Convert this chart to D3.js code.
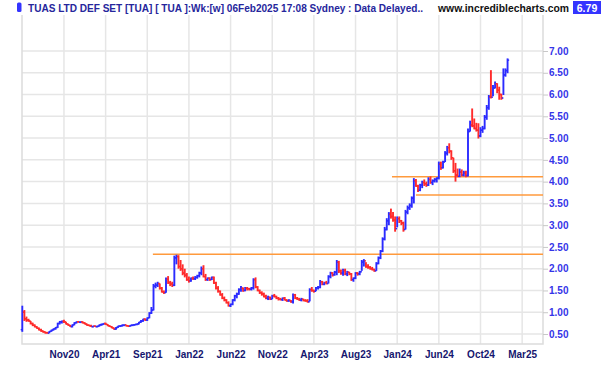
<!DOCTYPE html>
<html>
<head>
<meta charset="utf-8">
<script src="https://cdn.jsdelivr.net/npm/d3@7"></script>
<style>
  body { margin: 0; background: #fff; }
  svg { display: block; font-family: Arial, 'Liberation Sans', sans-serif; }
</style>
</head>
<body>
<div id="chart"></div>
<script>
// weekly bars, TUA, oldest first (open = previous close)
const firstOpen = 0.60;
const highs = [
  1.15,1.05,0.90,0.85,0.80,0.76,0.72,0.68,0.65,0.62,0.58,0.56,0.55,0.57,0.60,0.63,0.66,0.76,0.80,0.81,
  0.83,0.78,0.74,0.71,0.72,0.77,0.79,0.80,0.79,0.79,0.77,0.74,0.72,0.71,0.69,0.70,0.69,0.72,0.74,0.75,
  0.76,0.73,0.70,0.68,0.65,0.66,0.69,0.70,0.72,0.72,0.71,0.70,0.71,0.72,0.73,0.74,0.78,0.82,0.85,0.86,
  0.88,1.00,1.12,1.65,1.68,1.70,1.66,1.58,1.50,1.80,1.83,1.72,1.70,2.30,2.32,2.31,2.20,2.10,2.00,1.90,
  1.82,1.80,1.82,1.83,1.86,1.93,2.05,2.08,1.88,1.80,1.80,1.82,1.82,1.70,1.60,1.50,1.44,1.36,1.30,1.25,
  1.20,1.30,1.40,1.45,1.55,1.60,1.57,1.58,1.58,1.56,1.58,1.78,1.80,1.60,1.52,1.48,1.45,1.40,1.38,1.36,
  1.40,1.42,1.38,1.35,1.33,1.34,1.35,1.30,1.30,1.28,1.43,1.42,1.35,1.33,1.33,1.31,1.30,1.30,1.55,1.58,
  1.52,1.58,1.60,1.74,1.72,1.70,1.72,1.85,1.93,1.92,1.95,2.20,2.18,1.98,2.00,2.00,1.95,1.93,1.90,1.80,
  1.92,1.92,1.95,2.20,2.22,2.15,2.10,2.06,2.04,2.00,2.15,2.28,2.43,2.72,2.96,3.16,3.30,3.38,3.30,3.20,
  3.20,3.20,3.12,3.08,3.35,3.45,3.50,3.66,4.08,4.06,3.93,3.95,4.02,4.05,4.00,4.10,4.12,4.05,4.08,4.10,
  4.46,4.46,4.48,4.70,4.82,4.88,4.72,4.55,4.43,4.30,4.30,4.28,4.25,4.25,5.22,5.40,5.68,5.45,5.35,5.34,
  5.25,5.28,5.53,5.76,5.99,6.56,6.22,6.30,6.26,6.18,6.02,6.60,6.60,6.83
];
const lows = [
  0.55,0.80,0.78,0.78,0.72,0.68,0.65,0.62,0.58,0.55,0.53,0.51,0.51,0.52,0.55,0.58,0.60,0.64,0.72,0.74,
  0.75,0.72,0.69,0.66,0.65,0.70,0.74,0.76,0.75,0.74,0.72,0.69,0.68,0.66,0.65,0.66,0.65,0.67,0.69,0.71,
  0.71,0.68,0.66,0.63,0.60,0.60,0.64,0.66,0.67,0.68,0.67,0.66,0.67,0.68,0.69,0.70,0.72,0.76,0.78,0.80,
  0.80,0.86,0.96,1.04,1.55,1.58,1.52,1.45,1.42,1.45,1.65,1.60,1.58,1.60,2.10,2.00,1.95,1.85,1.80,1.72,
  1.68,1.70,1.74,1.74,1.77,1.80,1.85,1.80,1.72,1.72,1.72,1.74,1.65,1.52,1.45,1.38,1.30,1.25,1.20,1.13,
  1.12,1.16,1.25,1.32,1.40,1.47,1.47,1.48,1.50,1.50,1.50,1.52,1.55,1.48,1.42,1.38,1.34,1.30,1.28,1.28,
  1.30,1.34,1.30,1.27,1.27,1.26,1.27,1.24,1.24,1.22,1.20,1.30,1.28,1.26,1.25,1.25,1.24,1.22,1.25,1.47,
  1.45,1.48,1.52,1.55,1.62,1.62,1.64,1.66,1.78,1.82,1.84,1.85,1.90,1.86,1.84,1.85,1.83,1.85,1.72,1.70,
  1.76,1.84,1.85,1.95,2.05,2.02,2.00,1.98,1.96,1.93,1.95,2.10,2.22,2.38,2.65,2.88,3.00,3.15,3.08,2.85,
  2.95,3.05,3.00,2.85,2.90,3.25,3.35,3.40,3.50,3.88,3.76,3.78,3.85,3.90,3.88,3.90,3.95,3.92,3.98,3.98,
  4.05,4.27,4.30,4.45,4.60,4.65,4.50,4.20,4.00,4.10,4.10,4.12,4.12,4.10,4.12,5.15,5.25,5.20,5.15,4.99,
  5.02,5.12,5.20,5.42,5.65,5.91,5.96,6.14,6.03,5.88,5.88,5.99,6.41,6.49
];
const closes = [
  1.00,0.85,0.82,0.80,0.74,0.70,0.67,0.63,0.60,0.57,0.55,0.53,0.52,0.56,0.59,0.62,0.65,0.74,0.78,0.79,
  0.78,0.73,0.70,0.67,0.71,0.76,0.78,0.77,0.78,0.76,0.73,0.70,0.69,0.67,0.68,0.67,0.68,0.71,0.72,0.74,
  0.72,0.69,0.67,0.64,0.61,0.65,0.68,0.69,0.70,0.71,0.69,0.68,0.70,0.71,0.72,0.73,0.77,0.80,0.84,0.82,
  0.87,0.98,1.05,1.60,1.62,1.66,1.55,1.47,1.45,1.76,1.68,1.65,1.62,2.25,2.28,2.05,2.00,1.90,1.85,1.75,
  1.72,1.78,1.77,1.80,1.84,1.90,2.00,1.82,1.75,1.78,1.75,1.80,1.67,1.55,1.48,1.40,1.32,1.28,1.22,1.15,
  1.18,1.28,1.38,1.42,1.52,1.55,1.50,1.55,1.54,1.53,1.56,1.75,1.58,1.50,1.45,1.42,1.36,1.32,1.34,1.30,
  1.38,1.36,1.32,1.30,1.29,1.32,1.28,1.26,1.27,1.24,1.40,1.32,1.30,1.28,1.30,1.27,1.26,1.24,1.52,1.50,
  1.48,1.56,1.57,1.70,1.64,1.68,1.66,1.82,1.90,1.86,1.92,2.15,1.95,1.90,1.96,1.88,1.92,1.88,1.75,1.78,
  1.90,1.88,1.93,2.15,2.18,2.05,2.03,2.00,1.98,1.95,2.12,2.25,2.40,2.68,2.90,3.10,3.25,3.20,3.12,2.92,
  3.15,3.10,3.05,2.90,3.30,3.40,3.45,3.62,4.02,3.90,3.80,3.92,3.98,3.95,3.92,4.05,3.98,4.02,4.05,4.08,
  4.40,4.32,4.45,4.65,4.78,4.70,4.55,4.25,4.15,4.12,4.22,4.15,4.20,4.14,5.15,5.30,5.28,5.22,5.18,5.05,
  5.18,5.22,5.48,5.70,5.95,5.94,6.15,6.25,6.10,6.00,5.92,6.45,6.55,6.79
];

// date labels sit on every 20th weekly bar
const tickBars = [20, 40, 60, 80, 100, 120, 140, 160, 180, 200, 220, 240];
const tickLabels = ['Nov20', 'Apr21', 'Sep21', 'Jan22', 'Jun22', 'Nov22',
                    'Apr23', 'Aug23', 'Jan24', 'Jun24', 'Oct24', 'Mar25'];
const priceTicks = [0.5, 1, 1.5, 2, 2.5, 3, 3.5, 4, 4.5, 5, 5.5, 6, 6.5, 7];

// horizontal support / resistance lines: starting bar and price
const levelStarts = [62.7, 177.5, 189];
const levelPrices = [2.33, 4.11, 3.69];

const width = 602;
const height = 365;
const plot = { left: 22, right: 543, top: 15, bottom: 344 };

const BLUE = '#2b2bff';
const RED = '#ff2b2b';

const svg = d3.select('#chart')
  .append('svg')
  .attr('width', width)
  .attr('height', height)
  .attr('viewBox', `0 0 ${width} ${height}`);

const xScale = d3.scaleLinear()
  .domain([0, 240])
  .range([22.3, 22.3 + 240 * 2.0827]);

const yScale = d3.scaleLinear()
  .domain([0.5, 7])
  .range([334, 51]);

const bars = closes.map((c, i) => ({
  i,
  open: i === 0 ? firstOpen : closes[i - 1],
  high: highs[i],
  low: lows[i],
  close: c
}));

// grid
const grid = svg.append('g').attr('class', 'grid');

grid.selectAll('line.vgrid')
  .data(tickBars)
  .enter()
  .append('line')
  .attr('class', 'vgrid')
  .attr('x1', d => xScale(d))
  .attr('x2', d => xScale(d))
  .attr('y1', plot.top)
  .attr('y2', plot.bottom)
  .attr('stroke', '#e6e6e6')
  .attr('stroke-width', 1.5);

grid.selectAll('line.hgrid')
  .data(priceTicks)
  .enter()
  .append('line')
  .attr('class', 'hgrid')
  .attr('x1', plot.left)
  .attr('x2', plot.right)
  .attr('y1', d => yScale(d))
  .attr('y2', d => yScale(d))
  .attr('stroke', '#e6e6e6')
  .attr('stroke-width', 1.5);

// frame
svg.append('path')
  .attr('d', `M${plot.left},${plot.top}V${plot.bottom}H${plot.right}V${plot.top}`)
  .attr('fill', 'none')
  .attr('stroke', '#dcdcdc')
  .attr('stroke-width', 1.5);

// price axis on the right
const yAxis = d3.axisRight(yScale)
  .tickValues(priceTicks)
  .tickSize(5)
  .tickPadding(1)
  .tickFormat(d3.format('.2f'));

const yAxisEl = svg.append('g')
  .attr('class', 'y axis')
  .attr('transform', `translate(${plot.right},0)`)
  .call(yAxis);

yAxisEl.select('.domain').remove();
yAxisEl.selectAll('line').attr('stroke', '#c8c8c8');
yAxisEl.selectAll('text')
  .attr('fill', '#3535e8')
  .style('font-size', '10px')
  .style('font-weight', 'bold')
  .style('font-family', "Arial, 'Liberation Sans', sans-serif");

// date axis
const xAxis = d3.axisBottom(xScale)
  .tickValues(tickBars)
  .tickSize(0)
  .tickPadding(7)
  .tickFormat((d, i) => tickLabels[i]);

const xAxisEl = svg.append('g')
  .attr('class', 'x axis')
  .attr('transform', `translate(0,${plot.bottom})`)
  .call(xAxis);

xAxisEl.select('.domain').remove();
xAxisEl.selectAll('text')
  .attr('fill', '#16166e')
  .style('font-size', '10px')
  .style('font-weight', 'bold')
  .style('font-family', "Arial, 'Liberation Sans', sans-serif");

// support lines
svg.append('g')
  .selectAll('line')
  .data(levelPrices)
  .enter()
  .append('line')
  .attr('x1', (d, i) => xScale(levelStarts[i]))
  .attr('x2', plot.right)
  .attr('y1', d => yScale(d))
  .attr('y2', d => yScale(d))
  .attr('stroke', '#ff9a3c')
  .attr('stroke-width', 1.5);

// OHLC bars
const barG = svg.append('g').attr('class', 'bars');

const bar = barG.selectAll('g')
  .data(bars)
  .enter()
  .append('g')
  .attr('stroke', d => d.close >= d.open ? BLUE : RED);

bar.append('line')
  .attr('stroke-width', 1.9)
  .attr('x1', d => xScale(d.i))
  .attr('x2', d => xScale(d.i))
  .attr('y1', d => yScale(d.high))
  .attr('y2', d => yScale(d.low));

bar.append('line')
  .attr('stroke-width', 1.4)
  .attr('x1', d => xScale(d.i) - 1.6)
  .attr('x2', d => xScale(d.i))
  .attr('y1', d => yScale(d.open))
  .attr('y2', d => yScale(d.open));

bar.append('line')
  .attr('stroke-width', 1.4)
  .attr('x1', d => xScale(d.i))
  .attr('x2', d => xScale(d.i) + 1.6)
  .attr('y1', d => yScale(d.close))
  .attr('y2', d => yScale(d.close));

// header
svg.append('rect')
  .attr('x', 17)
  .attr('y', 2.5)
  .attr('width', 4.5)
  .attr('height', 9.5)
  .attr('rx', 1.5)
  .attr('fill', '#3434ff');

svg.append('text')
  .attr('x', 28)
  .attr('y', 11.5)
  .attr('fill', '#26269c')
  .attr('textLength', 395)
  .attr('lengthAdjust', 'spacingAndGlyphs')
  .style('font-size', '10.5px')
  .style('font-weight', 'bold')
  .text('TUAS LTD DEF SET [TUA] [ TUA ]:Wk:[w]  06Feb2025 17:08 Sydney : Data Delayed..');

svg.append('text')
  .attr('x', 438)
  .attr('y', 11.5)
  .attr('fill', '#111')
  .attr('textLength', 131)
  .attr('lengthAdjust', 'spacingAndGlyphs')
  .style('font-size', '10.5px')
  .style('font-weight', 'bold')
  .text('www.incrediblecharts.com');

const last = bars[bars.length - 1];

svg.append('rect')
  .attr('x', 573)
  .attr('y', 1)
  .attr('width', 28)
  .attr('height', 13)
  .attr('fill', '#3434ff');

svg.append('text')
  .attr('x', 587)
  .attr('y', 11.5)
  .attr('fill', '#fff')
  .attr('text-anchor', 'middle')
  .style('font-size', '10.5px')
  .style('font-weight', 'bold')
  .text(last.close.toFixed(2));
</script>
</body>
</html>
